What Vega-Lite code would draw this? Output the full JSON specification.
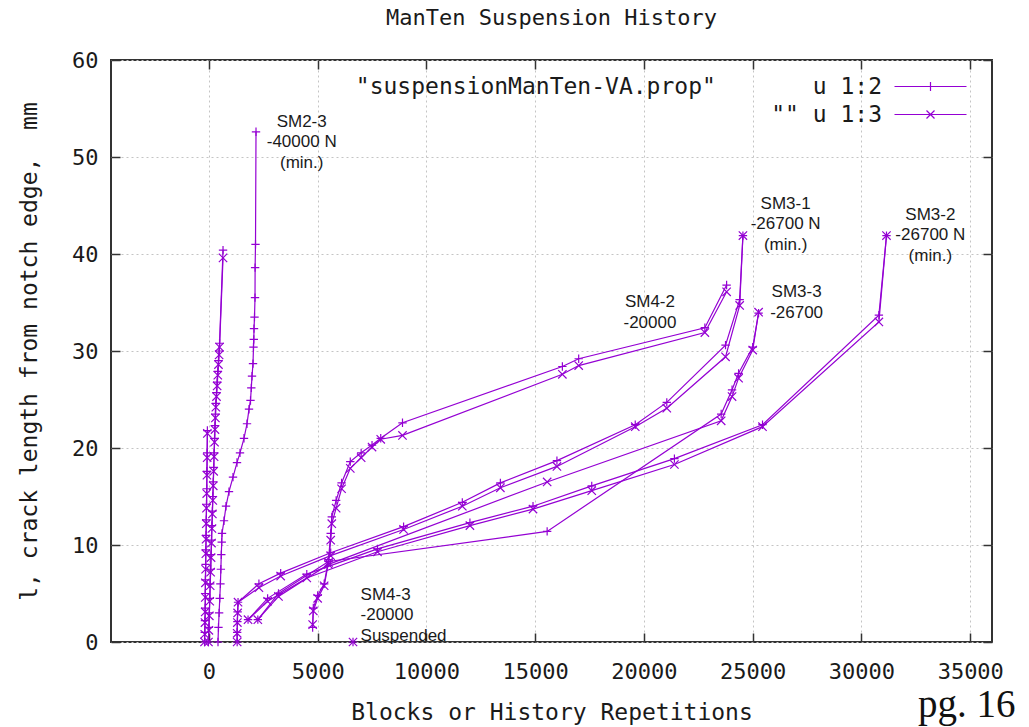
{
  "$schema": "https://vega.github.io/schema/vega-lite/v6.json",
  "width": 881,
  "height": 582,
  "autosize": {"type": "none"},
  "padding": {"left": 111, "top": 60, "right": 37, "bottom": 85},
  "background": "#ffffff",
  "title": {"text": "ManTen Suspension History", "font": "DejaVu Sans Mono", "fontSize": 22, "fontWeight": "normal", "color": "#1a1a1a", "anchor": "middle", "offset": 19},
  "config": {
    "view": {"stroke": "#333333", "strokeWidth": 2},
    "axis": {"labelFont": "DejaVu Sans Mono", "labelFontSize": 22, "labelColor": "#1a1a1a", "titleFont": "DejaVu Sans Mono", "titleFontSize": 23, "titleFontWeight": "normal", "titleColor": "#1a1a1a", "tickColor": "#333333", "tickWidth": 1.5, "tickSize": -9, "domain": false, "gridColor": "#c4c4c4", "gridDash": [2, 3], "gridWidth": 1}
  },
  "datasets": {
    "tests": [
      {"s": "SM2-1", "x": -200, "a": 0, "b": 0},
      {"s": "SM2-1", "x": -190, "a": 1.0, "b": 0.8},
      {"s": "SM2-1", "x": -180, "a": 2.2, "b": 2.0},
      {"s": "SM2-1", "x": -170, "a": 3.5, "b": 3.1},
      {"s": "SM2-1", "x": -165, "a": 5.0, "b": 4.6},
      {"s": "SM2-1", "x": -160, "a": 6.4, "b": 6.1},
      {"s": "SM2-1", "x": -150, "a": 8.0, "b": 7.5},
      {"s": "SM2-1", "x": -140, "a": 9.5, "b": 9.1},
      {"s": "SM2-1", "x": -130, "a": 11.0, "b": 10.6},
      {"s": "SM2-1", "x": -120, "a": 12.6, "b": 12.2},
      {"s": "SM2-1", "x": -110, "a": 14.2, "b": 13.8},
      {"s": "SM2-1", "x": -100, "a": 15.8, "b": 15.3},
      {"s": "SM2-1", "x": -90, "a": 17.6, "b": 17.2},
      {"s": "SM2-1", "x": -80, "a": 19.5, "b": 19.0},
      {"s": "SM2-1", "x": -70, "a": 21.8, "b": 21.5},
      {"s": "SM2-2", "x": -20, "a": 0, "b": 0},
      {"s": "SM2-2", "x": 0, "a": 1.5, "b": 1.2},
      {"s": "SM2-2", "x": 20, "a": 3.0, "b": 2.7},
      {"s": "SM2-2", "x": 40, "a": 4.5, "b": 4.2},
      {"s": "SM2-2", "x": 60, "a": 6.0, "b": 5.8},
      {"s": "SM2-2", "x": 80, "a": 7.5, "b": 7.2},
      {"s": "SM2-2", "x": 100, "a": 9.0, "b": 8.7},
      {"s": "SM2-2", "x": 120, "a": 10.5, "b": 10.2},
      {"s": "SM2-2", "x": 140, "a": 12.0, "b": 11.7},
      {"s": "SM2-2", "x": 160, "a": 13.5, "b": 13.2},
      {"s": "SM2-2", "x": 180, "a": 15.0, "b": 14.6},
      {"s": "SM2-2", "x": 200, "a": 16.5, "b": 16.1},
      {"s": "SM2-2", "x": 220, "a": 18.0, "b": 17.6},
      {"s": "SM2-2", "x": 240, "a": 19.5, "b": 19.1},
      {"s": "SM2-2", "x": 260, "a": 21.0, "b": 20.6},
      {"s": "SM2-2", "x": 280, "a": 22.3, "b": 21.9},
      {"s": "SM2-2", "x": 300, "a": 23.5, "b": 23.1},
      {"s": "SM2-2", "x": 320, "a": 24.6, "b": 24.2},
      {"s": "SM2-2", "x": 350, "a": 25.7, "b": 25.3},
      {"s": "SM2-2", "x": 380, "a": 26.8, "b": 26.4},
      {"s": "SM2-2", "x": 410, "a": 27.9, "b": 27.5},
      {"s": "SM2-2", "x": 440, "a": 29.0, "b": 28.6},
      {"s": "SM2-2", "x": 470, "a": 30.0, "b": 29.6},
      {"s": "SM2-2", "x": 490, "a": 30.8, "b": 30.4},
      {"s": "SM2-2", "x": 650, "a": 40.4, "b": 39.6},
      {"s": "SM2-3", "x": 419, "a": 0, "b": null},
      {"s": "SM2-3", "x": 440, "a": 1.5, "b": null},
      {"s": "SM2-3", "x": 470, "a": 3.0, "b": null},
      {"s": "SM2-3", "x": 500, "a": 4.5, "b": null},
      {"s": "SM2-3", "x": 530, "a": 6.0, "b": null},
      {"s": "SM2-3", "x": 550, "a": 7.5, "b": null},
      {"s": "SM2-3", "x": 570, "a": 9.0, "b": null},
      {"s": "SM2-3", "x": 590, "a": 10.3, "b": null},
      {"s": "SM2-3", "x": 603, "a": 11.2, "b": null},
      {"s": "SM2-3", "x": 695, "a": 12.5, "b": null},
      {"s": "SM2-3", "x": 787, "a": 14.0, "b": null},
      {"s": "SM2-3", "x": 924, "a": 15.5, "b": null},
      {"s": "SM2-3", "x": 1108, "a": 17.0, "b": null},
      {"s": "SM2-3", "x": 1292, "a": 18.5, "b": null},
      {"s": "SM2-3", "x": 1430, "a": 19.5, "b": null},
      {"s": "SM2-3", "x": 1614, "a": 21.0, "b": null},
      {"s": "SM2-3", "x": 1752, "a": 22.5, "b": null},
      {"s": "SM2-3", "x": 1844, "a": 24.0, "b": null},
      {"s": "SM2-3", "x": 1913, "a": 24.9, "b": null},
      {"s": "SM2-3", "x": 1950, "a": 26.2, "b": null},
      {"s": "SM2-3", "x": 1982, "a": 27.4, "b": null},
      {"s": "SM2-3", "x": 2028, "a": 28.7, "b": null},
      {"s": "SM2-3", "x": 2050, "a": 30.4, "b": null},
      {"s": "SM2-3", "x": 2065, "a": 31.2, "b": null},
      {"s": "SM2-3", "x": 2074, "a": 32.3, "b": null},
      {"s": "SM2-3", "x": 2097, "a": 33.5, "b": null},
      {"s": "SM2-3", "x": 2120, "a": 35.5, "b": null},
      {"s": "SM2-3", "x": 2125, "a": 38.6, "b": null},
      {"s": "SM2-3", "x": 2143, "a": 41.0, "b": null},
      {"s": "SM2-3", "x": 2166, "a": 52.6, "b": null},
      {"s": "SM3-1", "x": 1300, "a": 0, "b": 0},
      {"s": "SM3-1", "x": 1300, "a": 1.0, "b": 0.9},
      {"s": "SM3-1", "x": 1310, "a": 2.1, "b": 2.0},
      {"s": "SM3-1", "x": 1320, "a": 3.1, "b": 3.0},
      {"s": "SM3-1", "x": 1340, "a": 4.1, "b": 4.1},
      {"s": "SM3-1", "x": 2300, "a": 6.0, "b": 5.6},
      {"s": "SM3-1", "x": 3300, "a": 7.1, "b": 6.8},
      {"s": "SM3-1", "x": 5600, "a": 9.2, "b": 8.9},
      {"s": "SM3-1", "x": 8950, "a": 11.9, "b": 11.6},
      {"s": "SM3-1", "x": 11650, "a": 14.4, "b": 14.0},
      {"s": "SM3-1", "x": 13400, "a": 16.4, "b": 15.9},
      {"s": "SM3-1", "x": 16000, "a": 18.7, "b": 18.1},
      {"s": "SM3-1", "x": 19600, "a": 22.4, "b": 22.2},
      {"s": "SM3-1", "x": 21050, "a": 24.7, "b": 24.1},
      {"s": "SM3-1", "x": 23750, "a": 30.6, "b": 29.4},
      {"s": "SM3-1", "x": 24400, "a": 35.3, "b": 34.7},
      {"s": "SM3-1", "x": 24550, "a": 41.9, "b": 41.9},
      {"s": "SM3-2", "x": 1800, "a": 2.3, "b": 2.3},
      {"s": "SM3-2", "x": 2700, "a": 4.5, "b": 4.2},
      {"s": "SM3-2", "x": 4500, "a": 7.0, "b": 6.6},
      {"s": "SM3-2", "x": 7750, "a": 9.6, "b": 9.3},
      {"s": "SM3-2", "x": 12000, "a": 12.3, "b": 12.0},
      {"s": "SM3-2", "x": 14900, "a": 14.0, "b": 13.7},
      {"s": "SM3-2", "x": 17600, "a": 16.1, "b": 15.6},
      {"s": "SM3-2", "x": 21400, "a": 18.9, "b": 18.3},
      {"s": "SM3-2", "x": 25450, "a": 22.4, "b": 22.2},
      {"s": "SM3-2", "x": 30800, "a": 33.7, "b": 33.0},
      {"s": "SM3-2", "x": 31150, "a": 41.9, "b": 41.9},
      {"s": "SM3-3", "x": 2250, "a": 2.3, "b": 2.3},
      {"s": "SM3-3", "x": 3200, "a": 5.0, "b": 4.7},
      {"s": "SM3-3", "x": 5500, "a": 8.3, "b": 8.0},
      {"s": "SM3-3", "x": 15550, "a": 11.4, "b": 16.5},
      {"s": "SM3-3", "x": 23550, "a": 23.5, "b": 22.8},
      {"s": "SM3-3", "x": 24050, "a": 26.0, "b": 25.3},
      {"s": "SM3-3", "x": 24350, "a": 27.7, "b": 27.2},
      {"s": "SM3-3", "x": 25000, "a": 30.4, "b": 30.1},
      {"s": "SM3-3", "x": 25270, "a": 33.9, "b": 34.0},
      {"s": "SM4-2", "x": 4770, "a": 1.5, "b": 1.8},
      {"s": "SM4-2", "x": 4800, "a": 3.5, "b": 3.2},
      {"s": "SM4-2", "x": 5000, "a": 4.8, "b": 4.5},
      {"s": "SM4-2", "x": 5300, "a": 6.0, "b": 5.8},
      {"s": "SM4-2", "x": 5500, "a": 8.5, "b": 8.2},
      {"s": "SM4-2", "x": 5600, "a": 11.2, "b": 10.5},
      {"s": "SM4-2", "x": 5650, "a": 12.9, "b": 12.2},
      {"s": "SM4-2", "x": 5850, "a": 14.6, "b": 13.8},
      {"s": "SM4-2", "x": 6100, "a": 16.4, "b": 15.8},
      {"s": "SM4-2", "x": 6500, "a": 18.6, "b": 17.9},
      {"s": "SM4-2", "x": 7000, "a": 19.5, "b": 19.0},
      {"s": "SM4-2", "x": 7500, "a": 20.3, "b": 20.1},
      {"s": "SM4-2", "x": 7900, "a": 21.0, "b": 20.9},
      {"s": "SM4-2", "x": 8900, "a": 22.6, "b": 21.3},
      {"s": "SM4-2", "x": 16250, "a": 28.4, "b": 27.6},
      {"s": "SM4-2", "x": 17000, "a": 29.2, "b": 28.5},
      {"s": "SM4-2", "x": 22800, "a": 32.4, "b": 31.9},
      {"s": "SM4-2", "x": 23800, "a": 36.8, "b": 36.1},
      {"s": "SM4-3", "x": 6625, "a": 0, "b": 0}
    ],
    "notes": [
      {"t": "SM2-3\n-40000 N\n(min.)", "x": 4266, "y": 54.46},
      {"t": "SM3-1\n-26700 N\n(min.)", "x": 26513, "y": 46.01},
      {"t": "SM3-2\n-26700 N\n(min.)", "x": 33165, "y": 44.88},
      {"t": "SM4-2\n-20000", "x": 20275, "y": 35.86},
      {"t": "SM3-3\n-26700", "x": 27018, "y": 36.89}
    ],
    "notesLeft": [
      {"t": "SM4-3\n-20000\nSuspended", "x": 6972, "y": 5.70}
    ]
  },
  "resolve": {"axis": {"x": "independent", "y": "independent"}, "scale": {"shape": "independent"}},
  "layer": [
    {
      "data": {"name": "tests"},
      "transform": [{"fold": ["a", "b"], "as": ["side", "len"]}],
      "mark": {"type": "line", "color": "#9400D3", "strokeWidth": 1.2},
      "encoding": {
        "x": {"field": "x", "type": "quantitative", "scale": {"domain": [-4500, 36000], "nice": false, "zero": false},
          "axis": {"orient": "bottom", "values": [0, 5000, 10000, 15000, 20000, 25000, 30000, 35000], "format": "d", "grid": true, "labelPadding": 28, "labelDx": 6, "title": "Blocks or History Repetitions", "titlePadding": 19}},
        "y": {"field": "len", "type": "quantitative", "scale": {"domain": [0, 60], "nice": false},
          "axis": {"orient": "left", "values": [0, 10, 20, 30, 40, 50, 60], "grid": true, "labelPadding": 22, "title": "l, crack length from notch edge, \u00a0mm", "titlePadding": 30}},
        "detail": [{"field": "s"}, {"field": "side"}],
        "order": {"value": null}
      }
    },
    {
      "data": {"name": "tests"},
      "transform": [{"fold": ["a", "b"], "as": ["side", "len"]}, {"filter": "datum.len != null"}],
      "mark": {"type": "point", "filled": false, "color": "#9400D3", "strokeWidth": 1.2, "size": 70, "opacity": 1},
      "encoding": {
        "x": {"field": "x", "type": "quantitative", "axis": {"orient": "top", "values": [0, 5000, 10000, 15000, 20000, 25000, 30000, 35000], "labels": false, "grid": false, "title": null}},
        "y": {"field": "len", "type": "quantitative", "axis": null},
        "shape": {"field": "side", "type": "nominal", "scale": {"domain": ["a", "b"], "range": ["M-1,0H1M0,-1V1", "M-1,-1L1,1M-1,1L1,-1"]}, "legend": null}
      }
    },
    {
      "data": {"name": "tests"},
      "transform": [{"filter": "false"}],
      "mark": {"type": "point", "filled": false, "color": "#9400D3", "strokeWidth": 1.2, "size": 100, "opacity": 1},
      "encoding": {
        "shape": {"field": "s", "type": "nominal",
          "scale": {"domain": ["\"suspensionManTen-VA.prop\"\u00a0\u00a0\u00a0\u00a0\u00a0\u00a0\u00a0u 1:2", "\"\" u 1:3"],
                    "range": ["M-7.2,0H7.2M0,-0.9V0.9", "M-7.2,0H7.2M-0.8,-0.8L0.8,0.8M-0.8,0.8L0.8,-0.8"]},
          "legend": {"orient": "none", "legendX": 808, "legendY": 15, "title": null, "labelFont": "DejaVu Sans Mono", "labelFontSize": 23, "labelColor": "#1a1a1a", "labelAlign": "right", "labelOffset": -60, "labelLimit": 2000, "symbolSize": 100, "symbolStrokeWidth": 1.2, "symbolStrokeColor": "#9400D3", "symbolFillColor": "transparent", "symbolOpacity": 1, "rowPadding": 4, "padding": 0}}
      }
    },
    {
      "data": {"name": "notes"},
      "mark": {"type": "text", "font": "Liberation Sans", "fontSize": 17, "color": "#1a1a1a", "align": "center", "baseline": "top", "lineBreak": "\n", "lineHeight": 20.5},
      "encoding": {
        "x": {"field": "x", "type": "quantitative", "axis": null},
        "y": {"field": "y", "type": "quantitative",
          "axis": {"orient": "right", "values": [0, 10, 20, 30, 40, 50, 60], "labels": false, "grid": false, "title": "pg. 16", "titleFont": "Liberation Serif", "titleFontSize": 39, "titleFontWeight": "normal", "titleColor": "#111111", "titleAngle": 0, "titleAlign": "right", "titleBaseline": "alphabetic", "titleX": 23, "titleY": 656}},
        "text": {"field": "t"}
      }
    },
    {
      "data": {"name": "notesLeft"},
      "mark": {"type": "text", "font": "Liberation Sans", "fontSize": 17, "color": "#1a1a1a", "align": "left", "baseline": "top", "lineBreak": "\n", "lineHeight": 20.5},
      "encoding": {
        "x": {"field": "x", "type": "quantitative", "axis": null},
        "y": {"field": "y", "type": "quantitative", "axis": null},
        "text": {"field": "t"}
      }
    }
  ]
}
